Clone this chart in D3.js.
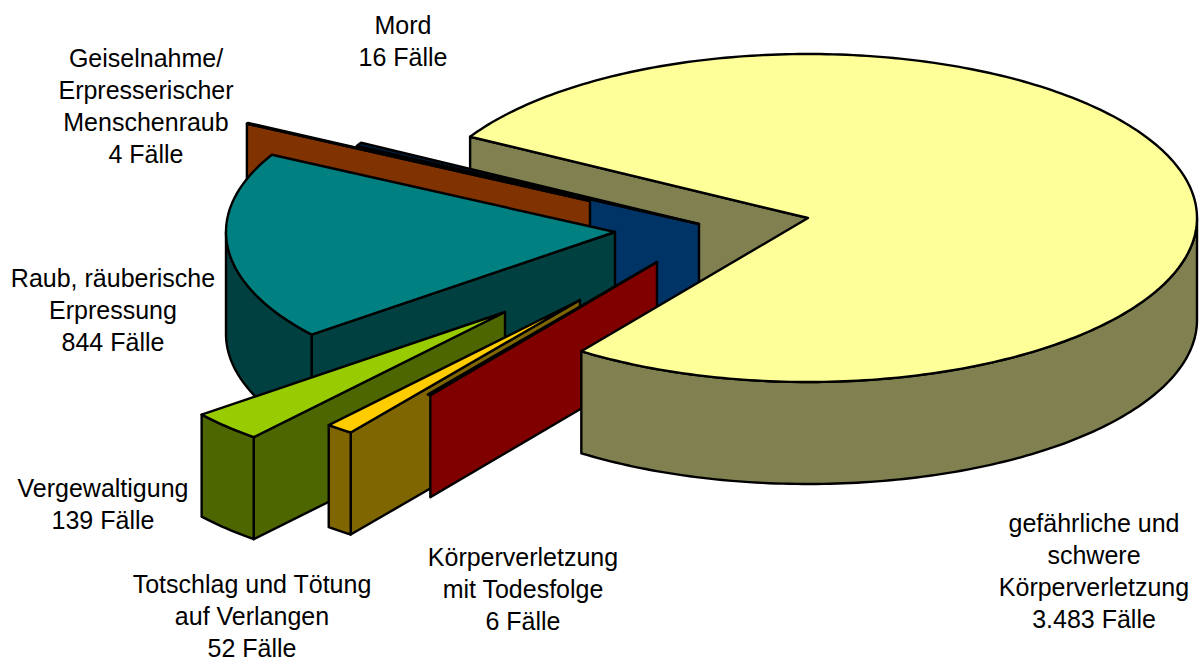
<!DOCTYPE html>
<html lang="de">
<head>
<meta charset="utf-8">
<title>Gewaltkriminalität</title>
<script src="https://cdn.jsdelivr.net/npm/d3@7"></script>
<style>
  html, body { margin: 0; padding: 0; background: #fff; }
  svg { display: block; }
  text { font-family: "Liberation Sans", Arial, sans-serif; font-size: 25px; fill: #000; text-anchor: middle; }
</style>
</head>
<body>
<div id="chart"></div>
<script>
// clockwise from the big slice
const categories = [
  ['gefährliche und', 'schwere', 'Körperverletzung'],
  ['Körperverletzung', 'mit Todesfolge'],
  ['Totschlag und Tötung', 'auf Verlangen'],
  ['Vergewaltigung'],
  ['Raub, räuberische', 'Erpressung'],
  ['Geiselnahme/', 'Erpresserischer', 'Menschenraub'],
  ['Mord']
];
const values = [3483, 6, 52, 139, 844, 4, 16];

const topColors = ['#ffff99', '#800000', '#ffcc00', '#99cc00', '#008080', '#401a00', '#001f3f'];
const sideColors = ['#808050', '#800000', '#806600', '#4d6600', '#004040', '#803300', '#003366'];

// how far each slice is pulled out of the pie, in pixels
const explodeX = [0, -151, -228, -303, -193, -218, -109];
const explodeY = [0, 44, 82, 94, 14, -17, 6];

// label centre x and first baseline
const labelX = [1094, 523, 252, 103, 113, 146, 403];
const labelY = [532, 566, 593, 497, 287, 67, 34];
const lineHeight = 32;

const width = 1204, height = 662;
const cx = 808, cy = 218, rx = 389, ry = 164, depth = 102;
const rad = Math.PI / 180;

const x = d3.scaleLinear().domain([-1, 1]).range([cx - rx, cx + rx]);
const y = d3.scaleLinear().domain([-1, 1]).range([cy - ry, cy + ry]);

const pie = d3.pie().sort(null).startAngle(299.7 * rad).endAngle((299.7 + 360) * rad);
const slices = pie(values);
const fmt = d3.formatLocale({ decimal: ',', thousands: '.', grouping: [3], currency: ['', '€'] }).format(',d');

const svg = d3.select('#chart').append('svg')
  .attr('width', width)
  .attr('height', height);

const line = d3.line();

function rim(i, a, drop) {
  return [x(Math.sin(a)) + explodeX[i], y(-Math.cos(a)) + explodeY[i] + drop];
}
function apex(i, drop) {
  return [x(0) + explodeX[i], y(0) + explodeY[i] + drop];
}
function arcPoints(i, a0, a1, drop) {
  const n = Math.max(2, Math.ceil((a1 - a0) / rad));
  return d3.range(n + 1).map(k => rim(i, a0 + (a1 - a0) * k / n, drop));
}

function draw(points, fill) {
  svg.append('path')
    .attr('d', line(points) + 'Z')
    .attr('fill', fill)
    .attr('stroke', '#000')
    .attr('stroke-width', 2.4)
    .attr('stroke-linejoin', 'round');
}

function drawCutFace(i) {
  const a = slices[i].startAngle;
  draw([apex(i, 0), rim(i, a, 0), rim(i, a, depth), apex(i, depth)], sideColors[i]);
}

// only the part of the rim turned towards the viewer
function drawWall(i) {
  [0, 360].forEach(turn => {
    const lo = Math.max(slices[i].startAngle, (90 + turn) * rad);
    const hi = Math.min(slices[i].endAngle, (270 + turn) * rad);
    if (hi - lo < rad) return; // the tiniest slice has no wall to speak of
    draw(arcPoints(i, lo, hi, 0).concat(arcPoints(i, lo, hi, depth).reverse()), sideColors[i]);
  });
}

function drawTop(i) {
  draw([apex(i, 0)].concat(arcPoints(i, slices[i].startAngle, slices[i].endAngle, 0)), topColors[i]);
}

// back to front, the big slice's top goes over everything
drawCutFace(0);
[6, 5, 4, 3, 2, 1].forEach(i => {
  drawCutFace(i);
  drawWall(i);
  drawTop(i);
});
drawWall(0);
drawTop(0);

categories.forEach((lines, i) => {
  const label = svg.append('text').attr('x', labelX[i]).attr('y', labelY[i]);
  lines.concat(fmt(values[i]) + ' Fälle').forEach((t, k) => {
    label.append('tspan')
      .attr('x', labelX[i])
      .attr('y', labelY[i] + k * lineHeight)
      .text(t);
  });
});
</script>
</body>
</html>
